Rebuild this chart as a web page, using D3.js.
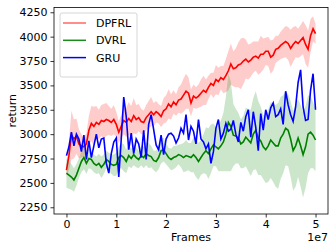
<!DOCTYPE html>
<html>
<head>
<meta charset="utf-8">
<script src="https://cdn.jsdelivr.net/npm/d3@7"></script>
<style>
  body { margin: 0; background: #fff; }
  text { font-family: "DejaVu Sans", sans-serif; }
</style>
</head>
<body>
<script>

// frames, in millions (sampled every 0.5M)
var frames = [0,0.5,1,1.5,2,2.5,3,3.5,4,4.5,5,5.5,6,6.5,7,7.5,8,8.5,9,9.5,
  10,10.5,11,11.5,12,12.5,13,13.5,14,14.5,15,15.5,16,16.5,17,17.5,18,18.5,19,19.5,
  20,20.5,21,21.5,22,22.5,23,23.5,24,24.5,25,25.5,26,26.5,27,27.5,28,28.5,29,29.5,
  30,30.5,31,31.5,32,32.5,33,33.5,34,34.5,35,35.5,36,36.5,37,37.5,38,38.5,39,39.5,
  40,40.5,41,41.5,42,42.5,43,43.5,44,44.5,45,45.5,46,46.5,47,47.5,48,48.5,49,49.5,50];

var seriesNames = ["DPFRL", "DVRL", "GRU"];

var dpfrl = [2630,2780,2990,2950,2980,2900,2880,2870,2900,3040,
  3110,3080,3120,3100,3140,3130,3150,3140,3120,3150,
  3100,3020,3080,3140,3120,3160,3130,3190,3150,3170,
  3130,3120,3170,3200,3230,3200,3230,3210,3180,3240,
  3260,3310,3280,3330,3300,3350,3360,3400,3440,3420,
  3320,3390,3370,3390,3420,3450,3430,3480,3520,3500,
  3560,3540,3580,3560,3600,3650,3720,3670,3680,3710,
  3720,3750,3770,3740,3760,3790,3800,3780,3820,3820,
  3850,3850,3790,3810,3870,3880,3910,3930,3950,3930,
  3880,3920,3950,3930,3960,3990,3920,3870,4010,4080,4030];

var dpfrlStd = [60,150,250,200,180,150,120,100,110,150,
  180,200,170,150,160,180,170,150,140,150,
  130,110,120,140,150,170,160,180,150,140,
  130,120,130,140,150,120,110,100,110,130,
  140,150,130,120,110,130,150,170,180,160,
  140,120,110,120,140,150,130,120,110,130,
  150,140,120,140,170,200,210,180,200,230,
  260,240,200,180,170,160,150,170,190,160,
  140,150,170,160,140,130,140,150,160,170,
  190,180,160,150,160,170,200,190,170,130,100];

var dvrl = [2600,2580,2560,2530,2580,2650,2720,2760,2700,2750,
  2740,2700,2680,2700,2660,2690,2740,2720,2690,2680,
  2690,2760,2780,2760,2720,2780,2750,2790,2760,2740,
  2780,2760,2800,2780,2770,2730,2720,2760,2830,2840,
  2800,2760,2740,2760,2770,2790,2780,2760,2780,2770,
  2760,2790,2760,2720,2760,2800,2830,2800,2850,2890,
  2870,2850,2880,2920,3000,3120,3080,2990,2980,2960,
  2900,2920,2970,2940,2910,3000,3040,2960,2930,2870,
  2840,2880,2940,2910,2880,2880,2960,3000,3060,3040,
  2950,2830,2880,2960,2880,2790,2870,3000,3020,2990,2940];

var dvrlStd = [150,140,130,120,110,100,110,120,110,100,
  100,90,90,100,110,100,90,90,100,110,
  120,110,130,140,120,110,100,110,100,90,
  100,110,120,130,110,100,110,120,130,120,
  110,100,110,120,110,100,120,150,160,140,
  150,180,200,190,180,200,240,260,250,220,
  200,230,260,300,380,500,460,320,280,260,
  250,270,300,320,340,370,400,380,350,330,
  340,370,390,400,420,440,420,400,380,370,
  390,410,420,400,420,440,420,400,370,340,320];

var gru = [2780,2870,3020,2880,3000,2950,2820,2990,2740,2930,
  2760,2880,3000,2860,2950,2960,2700,2600,2800,2920,
  2960,2560,2950,3380,3180,2840,3010,2800,2950,2900,
  2760,3040,2740,3100,3200,3050,2890,2840,2990,2790,
  2950,3000,3010,2980,2910,2960,3060,3010,3200,2940,
  3080,3030,2900,3150,2950,2920,2850,2900,2700,2820,
  3060,3150,2950,3010,3110,3030,3050,3140,3000,2920,
  3120,3030,3180,3250,2970,3230,3070,2830,3210,3040,
  3250,3150,3270,3320,3180,3200,3260,3100,3440,3300,
  3200,3130,3280,3530,3660,3280,3140,3150,3450,3620,3250];

var yTicks = [2250,2500,2750,3000,3250,3500,3750,4000,4250];
var yTickLabels = ["2250","2500","2750","3000","3250","3500","3750","4000","4250"];
var xTicks = [0,1e7,2e7,3e7,4e7,5e7];
var xTickLabels = ["0","1","2","3","4","5"];

var w = 330, h = 246;
var mLeft = 54, mRight = 328, mTop = 7.5, mBottom = 214;

var svg = d3.select("body").append("svg")
  .attr("width", w)
  .attr("height", h);

var x = d3.scaleLinear().domain([-0.25e7, 5.25e7]).range([mLeft, mRight]);
var y = d3.scaleLinear().domain([2181, 4299]).range([mBottom, mTop]);

var plot = svg.append("g");

// helper to build rows from the arrays
function rows(vals, std) {
  return frames.map(function(f, i) {
    return { f: f * 1e6, v: vals[i], s: std ? std[i] : 0 };
  });
}

var band = d3.area()
  .x(function(d) { return x(d.f); })
  .y0(function(d) { return y(d.v - d.s); })
  .y1(function(d) { return y(d.v + d.s); });

var line = d3.line()
  .x(function(d) { return x(d.f); })
  .y(function(d) { return y(d.v); });

var redRows = rows(dpfrl, dpfrlStd);
var greenRows = rows(dvrl, dvrlStd);
var blueRows = rows(gru);

plot.append("path").datum(redRows).attr("d", band)
  .attr("fill", "red").attr("fill-opacity", 0.2);
plot.append("path").datum(redRows).attr("d", line)
  .attr("fill", "none").attr("stroke", "red").attr("stroke-width", 1.6);

plot.append("path").datum(greenRows).attr("d", band)
  .attr("fill", "green").attr("fill-opacity", 0.2);
plot.append("path").datum(greenRows).attr("d", line)
  .attr("fill", "none").attr("stroke", "green").attr("stroke-width", 1.6);

plot.append("path").datum(blueRows).attr("d", line)
  .attr("fill", "none").attr("stroke", "blue").attr("stroke-width", 1.6);

// axes
var yAxis = d3.axisLeft(y).tickValues(yTicks).tickSize(3.5).tickPadding(3)
  .tickFormat(function(d, i) { return yTickLabels[i]; });
var xAxis = d3.axisBottom(x).tickValues(xTicks).tickSize(3.5).tickPadding(3)
  .tickFormat(function(d, i) { return xTickLabels[i]; });

var gy = svg.append("g").attr("transform", "translate(" + mLeft + ",0)").call(yAxis);
var gx = svg.append("g").attr("transform", "translate(0," + mBottom + ")").call(xAxis);
[gx, gy].forEach(function(g) {
  g.select(".domain").remove();
  g.selectAll("text").attr("font-size", "11px").attr("fill", "#000")
    .attr("font-family", "DejaVu Sans");
  g.selectAll("line").attr("stroke", "#000").attr("stroke-width", 0.8);
});

// frame
svg.append("rect")
  .attr("x", mLeft).attr("y", mTop)
  .attr("width", mRight - mLeft).attr("height", mBottom - mTop)
  .attr("fill", "none").attr("stroke", "#000").attr("stroke-width", 0.8);

svg.append("text").text("Frames")
  .attr("x", (mLeft + mRight) / 2).attr("y", 241)
  .attr("text-anchor", "middle").attr("font-size", "11px");

svg.append("text").text("1e7")
  .attr("x", mRight).attr("y", 241)
  .attr("text-anchor", "end").attr("font-size", "11px");

svg.append("text").text("return")
  .attr("transform", "translate(16," + (mTop + mBottom) / 2 + ") rotate(-90)")
  .attr("text-anchor", "middle").attr("font-size", "11px");

// legend
var legColors = ["red", "green", "blue"];
var legOpacity = [0.6, 0.9, 1];
var leg = svg.append("g");
leg.append("rect")
  .attr("x", 60).attr("y", 13).attr("width", 77).attr("height", 64)
  .attr("rx", 2).attr("fill", "#fff").attr("fill-opacity", 0.8)
  .attr("stroke", "#cccccc").attr("stroke-width", 0.8);

seriesNames.forEach(function(name, i) {
  var ly = 23 + i * 17.3;
  leg.append("line")
    .attr("x1", 63).attr("x2", 86).attr("y1", ly).attr("y2", ly)
    .attr("stroke", legColors[i]).attr("stroke-opacity", legOpacity[i])
    .attr("stroke-width", 1.5);
  leg.append("text").text(name)
    .attr("x", 96).attr("y", ly + 4)
    .attr("font-size", "11px");
});

</script>
</body>
</html>
